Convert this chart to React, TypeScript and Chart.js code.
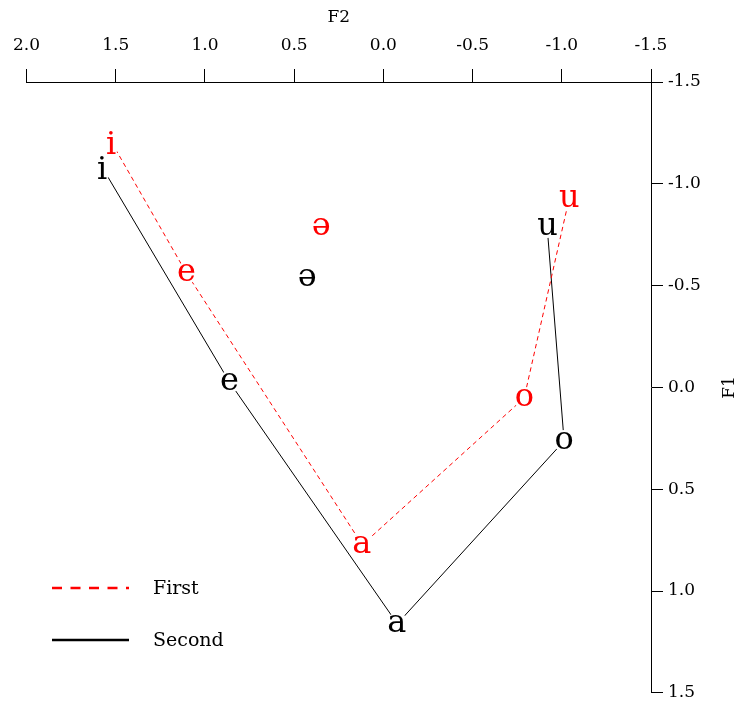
import React, { useEffect, useRef } from 'react';
import { Chart, registerables } from 'chart.js';

Chart.register(...registerables);

// ---- data ----
const vowels = ['i', 'e', 'a', 'o', 'u'];
const firstF2 = [1.524, 1.104, 0.118, -0.789, -1.041];
const firstF1 = [-1.205, -0.562, 0.773, 0.052, -0.926];
const secondF2 = [1.574, 0.863, -0.078, -1.013, -0.918];
const secondF1 = [-1.078, -0.027, 1.161, 0.263, -0.788];
const schwa = ['ə'];
const firstSchwaF2 = [0.348];
const firstSchwaF1 = [-0.788];
const secondSchwaF2 = [0.426];
const secondSchwaF1 = [-0.538];
const seriesNames = ['First', 'Second'];
const seriesColors = ['#ff0000', '#000000'];
const xTitle = 'F2';
const yTitle = 'F1';
const xRange = [-1.5, 2.0];
const yRange = [-1.5, 1.5];
const tickStep = 0.5;

const FONT = '"DejaVu Serif", serif';

const toPoints = (xs: number[], ys: number[]) => xs.map((x, i) => ({ x, y: ys[i] }));

const labelPlugin = {
  id: 'vowelLabels',
  afterDatasetsDraw(chart: any) {
    const ctx = chart.ctx;
    chart.data.datasets.forEach((ds: any, i: number) => {
      const meta = chart.getDatasetMeta(i);
      meta.data.forEach((pt: any, j: number) => {
        const label = ds.letters[j];
        ctx.save();
        ctx.font = `32px ${FONT}`;
        ctx.fillStyle = ds.textColor;
        ctx.textAlign = 'center';
        ctx.textBaseline = 'alphabetic';
        const m = ctx.measureText(label);
        const dx = (m.actualBoundingBoxRight - m.actualBoundingBoxLeft) / 2;
        const dy = (m.actualBoundingBoxAscent - m.actualBoundingBoxDescent) / 2;
        ctx.fillText(label, pt.x - dx, pt.y + dy);
        ctx.restore();
      });
    });
  },
};

const decorPlugin = {
  id: 'decor',
  afterDraw(chart: any) {
    const ctx = chart.ctx;
    const ca = chart.chartArea;
    ctx.save();
    ctx.fillStyle = '#000';
    ctx.font = `17px ${FONT}`;
    ctx.textAlign = 'center';
    ctx.textBaseline = 'middle';
    ctx.fillText(xTitle, (ca.left + ca.right) / 2, 18);
    ctx.save();
    ctx.translate(730, (ca.top + ca.bottom) / 2);
    ctx.rotate(-Math.PI / 2);
    ctx.fillText(yTitle, 0, 0);
    ctx.restore();

    // legend
    const rows = [588, 640];
    seriesNames.forEach((name, i) => {
      const y = rows[i];
      ctx.beginPath();
      ctx.strokeStyle = seriesColors[i];
      ctx.lineWidth = 2.5;
      ctx.setLineDash(i === 0 ? [10, 8.5] : []);
      ctx.moveTo(52, y);
      ctx.lineTo(129, y);
      ctx.stroke();
      ctx.setLineDash([]);
      ctx.fillStyle = '#000';
      ctx.font = `19px ${FONT}`;
      ctx.textAlign = 'left';
      ctx.textBaseline = 'middle';
      ctx.fillText(name, 153, y + 1);
    });
    ctx.restore();
  },
};

export default function App() {
  const ref = useRef<HTMLCanvasElement | null>(null);
  useEffect(() => {
    document.body.style.margin = '0';
    const canvas = ref.current;
    if (!canvas) return;
    const common = {
      showLine: false,
      pointRadius: 11,
      pointHoverRadius: 11,
      pointBackgroundColor: '#ffffff',
      pointBorderWidth: 0,
      pointBorderColor: 'rgba(0,0,0,0)',
    };
    const chart = new Chart(canvas, {
      type: 'scatter',
      data: {
        datasets: [
          {
            ...common,
            label: seriesNames[0],
            data: toPoints(firstF2, firstF1),
            showLine: true,
            borderColor: seriesColors[0],
            borderWidth: 1,
            borderDash: [4.5, 3.5],
            letters: vowels,
            textColor: seriesColors[0],
          } as any,
          {
            ...common,
            label: seriesNames[1],
            data: toPoints(secondF2, secondF1),
            showLine: true,
            borderColor: seriesColors[1],
            borderWidth: 1,
            letters: vowels,
            textColor: seriesColors[1],
          } as any,
          {
            ...common,
            label: seriesNames[0] + ' ə',
            data: toPoints(firstSchwaF2, firstSchwaF1),
            letters: schwa,
            textColor: seriesColors[0],
          } as any,
          {
            ...common,
            label: seriesNames[1] + ' ə',
            data: toPoints(secondSchwaF2, secondSchwaF1),
            letters: schwa,
            textColor: seriesColors[1],
          } as any,
        ],
      },
      options: {
        responsive: false,
        animation: false,
        events: [],
        layout: { padding: { left: 26, right: 0, top: 0, bottom: 15 } },
        plugins: { legend: { display: false }, tooltip: { enabled: false } },
        scales: {
          x: {
            type: 'linear',
            position: 'top',
            reverse: true,
            min: xRange[0],
            max: xRange[1],
            afterFit: (s: any) => { s.height = 82; },
            ticks: {
              stepSize: tickStep,
              color: '#000',
              font: { family: 'DejaVu Serif', size: 17 },
              padding: 13,
              maxRotation: 0,
              callback: (v: any) => Number(v).toFixed(1),
            },
            grid: { drawOnChartArea: false, drawTicks: true, tickLength: 13, color: '#000', tickColor: '#000' },
            border: { display: true, color: '#000', width: 1 },
          },
          y: {
            type: 'linear',
            position: 'right',
            reverse: true,
            min: yRange[0],
            max: yRange[1],
            afterFit: (s: any) => { s.width = 88; },
            ticks: {
              stepSize: tickStep,
              color: '#000',
              font: { family: 'DejaVu Serif', size: 17 },
              padding: 5,
              callback: (v: any) => Number(v).toFixed(1),
            },
            grid: { drawOnChartArea: false, drawTicks: true, tickLength: 12, color: '#000', tickColor: '#000' },
            border: { display: true, color: '#000', width: 1 },
          },
        },
      } as any,
      plugins: [labelPlugin, decorPlugin],
    });
    return () => chart.destroy();
  }, []);
  return <canvas ref={ref} width={739} height={708} style={{ display: 'block' }} />;
}
